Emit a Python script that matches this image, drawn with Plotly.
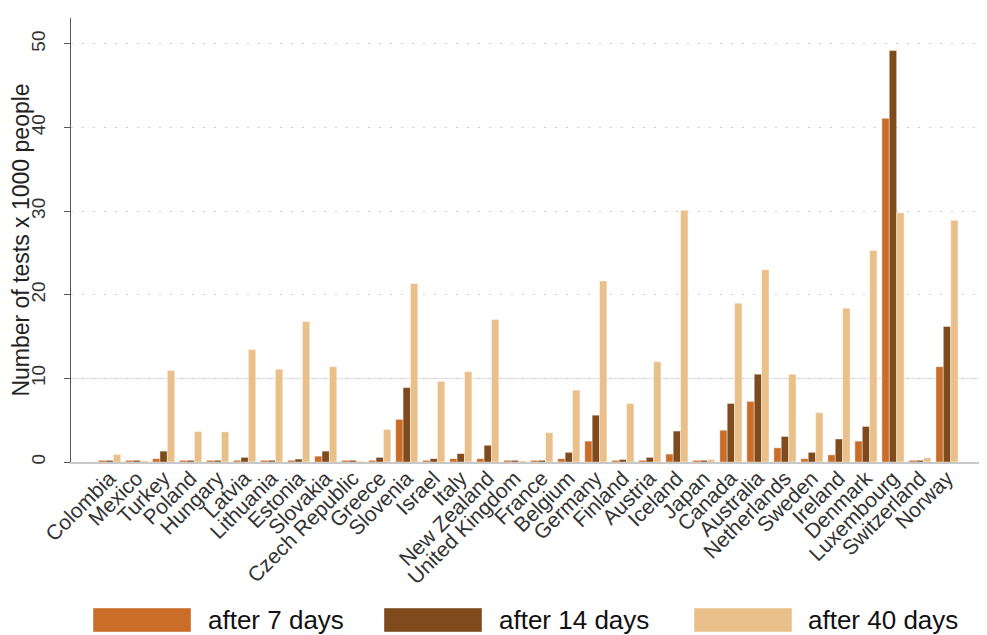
import plotly.graph_objects as go

countries = ["Colombia", "Mexico", "Turkey", "Poland", "Hungary", "Latvia", "Lithuania",
             "Estonia", "Slovakia", "Czech Republic", "Greece", "Slovenia", "Israel", "Italy",
             "New Zealand", "United Kingdom", "France", "Belgium", "Germany", "Finland",
             "Austria", "Iceland", "Japan", "Canada", "Australia", "Netherlands", "Sweden",
             "Ireland", "Denmark", "Luxembourg", "Switzerland", "Norway"]
after_7 = [0.2, 0.2, 0.4, 0.2, 0.2, 0.2, 0.2, 0.2, 0.7, 0.2, 0.2, 5.1, 0.2, 0.4,
           0.4, 0.2, 0.2, 0.4, 2.5, 0.2, 0.2, 0.95, 0.2, 3.8, 7.25, 1.7, 0.4,
           0.85, 2.5, 41.1, 0.2, 11.4]
after_14 = [0.2, 0.2, 1.3, 0.2, 0.2, 0.55, 0.2, 0.35, 1.3, 0.2, 0.55, 8.9, 0.4, 1.0,
            2.0, 0.2, 0.2, 1.15, 5.6, 0.3, 0.55, 3.7, 0.2, 7.0, 10.5, 3.05, 1.15,
            2.75, 4.25, 49.2, 0.2, 16.2]
after_40 = [0.9, 0.15, 10.95, 3.65, 3.6, 13.45, 11.1, 16.8, 11.4, 0.1, 3.9, 21.35, 9.65, 10.8,
            17.05, 0.15, 3.5, 8.6, 21.65, 7.0, 12.0, 30.1, 0.3, 19.0, 23.0, 10.5, 5.9,
            18.4, 25.3, 29.8, 0.5, 28.9]
series_names = ["after 7 days", "after 14 days", "after 40 days"]
series_colors = ["#C96D28", "#7F4A1C", "#EAC08A"]
y_ticks = [0, 10, 20, 30, 40, 50]
ref_line = 10

# the page body has an 8px margin: work in figure coordinates = screen - 8
OFF = 8
W, H = 987 - OFF, 635 - OFF
L, R, T, B = 71 - OFF, 984 - OFF, 18 - OFF, 462 - OFF

fig = go.Figure()
for name, vals, col in zip(series_names, [after_7, after_14, after_40], series_colors):
    fig.add_trace(go.Bar(x=countries, y=vals, name=name, marker_color=col,
                         marker_line=dict(width=0.6, color="rgba(255,255,255,0.7)"),
                         showlegend=False))

def px(x):
    return (x - OFF - L) / (R - L)

def py(y):
    return (B - (y - OFF)) / (B - T)

shapes = [dict(type="line", xref="paper", yref="y", x0=0, x1=1, y0=ref_line, y1=ref_line,
               line=dict(color="#e6e6e6", width=1.5), layer="below")]
annotations = []
legend_pos = [(93, 191, 206), (384, 482, 497), (694, 792, 806)]
for (x0, x1, tx), name, col in zip(legend_pos, series_names, series_colors):
    shapes.append(dict(type="rect", xref="paper", yref="paper", x0=px(x0), x1=px(x1),
                       y0=py(632), y1=py(608), fillcolor=col,
                       line=dict(color="rgba(255,255,255,0.7)", width=0.6)))
    annotations.append(dict(xref="paper", yref="paper", x=px(tx), y=py(620), text=name,
                            showarrow=False, xanchor="left", yanchor="middle",
                            font=dict(size=26, color="#111")))

fig.update_layout(
    width=W, height=H,
    margin=dict(l=L, r=W - R, t=T, b=H - B, pad=0),
    paper_bgcolor="white", plot_bgcolor="white",
    font=dict(family="Arial, Liberation Sans, sans-serif", color="#333"),
    barmode="group", bargap=0.18, bargroupgap=0,
    shapes=shapes, annotations=annotations,
    xaxis=dict(range=[-1.43, 32.37], tickangle=-45, tickfont=dict(size=21, color="#333"),
               ticklabelstandoff=-6,
               showline=True, linecolor="#c8c8c8", linewidth=1.5, ticks="", showgrid=False,
               automargin=False),
    yaxis=dict(range=[0, 53.1], tickvals=y_ticks, tickangle=-90,
               tickfont=dict(size=19, color="#333"), ticklabelstandoff=11,
               showline=True, linecolor="#555", linewidth=1.2, ticks="outside", ticklen=6,
               tickcolor="#555", showgrid=True, gridcolor="#d0d0d0", gridwidth=1,
               griddash="2px,9px", zeroline=False, automargin=False,
               title=dict(text="Number of tests x 1000 people", font=dict(size=23, color="#222"),
                          standoff=19)),
)
fig.write_html("out.html")
